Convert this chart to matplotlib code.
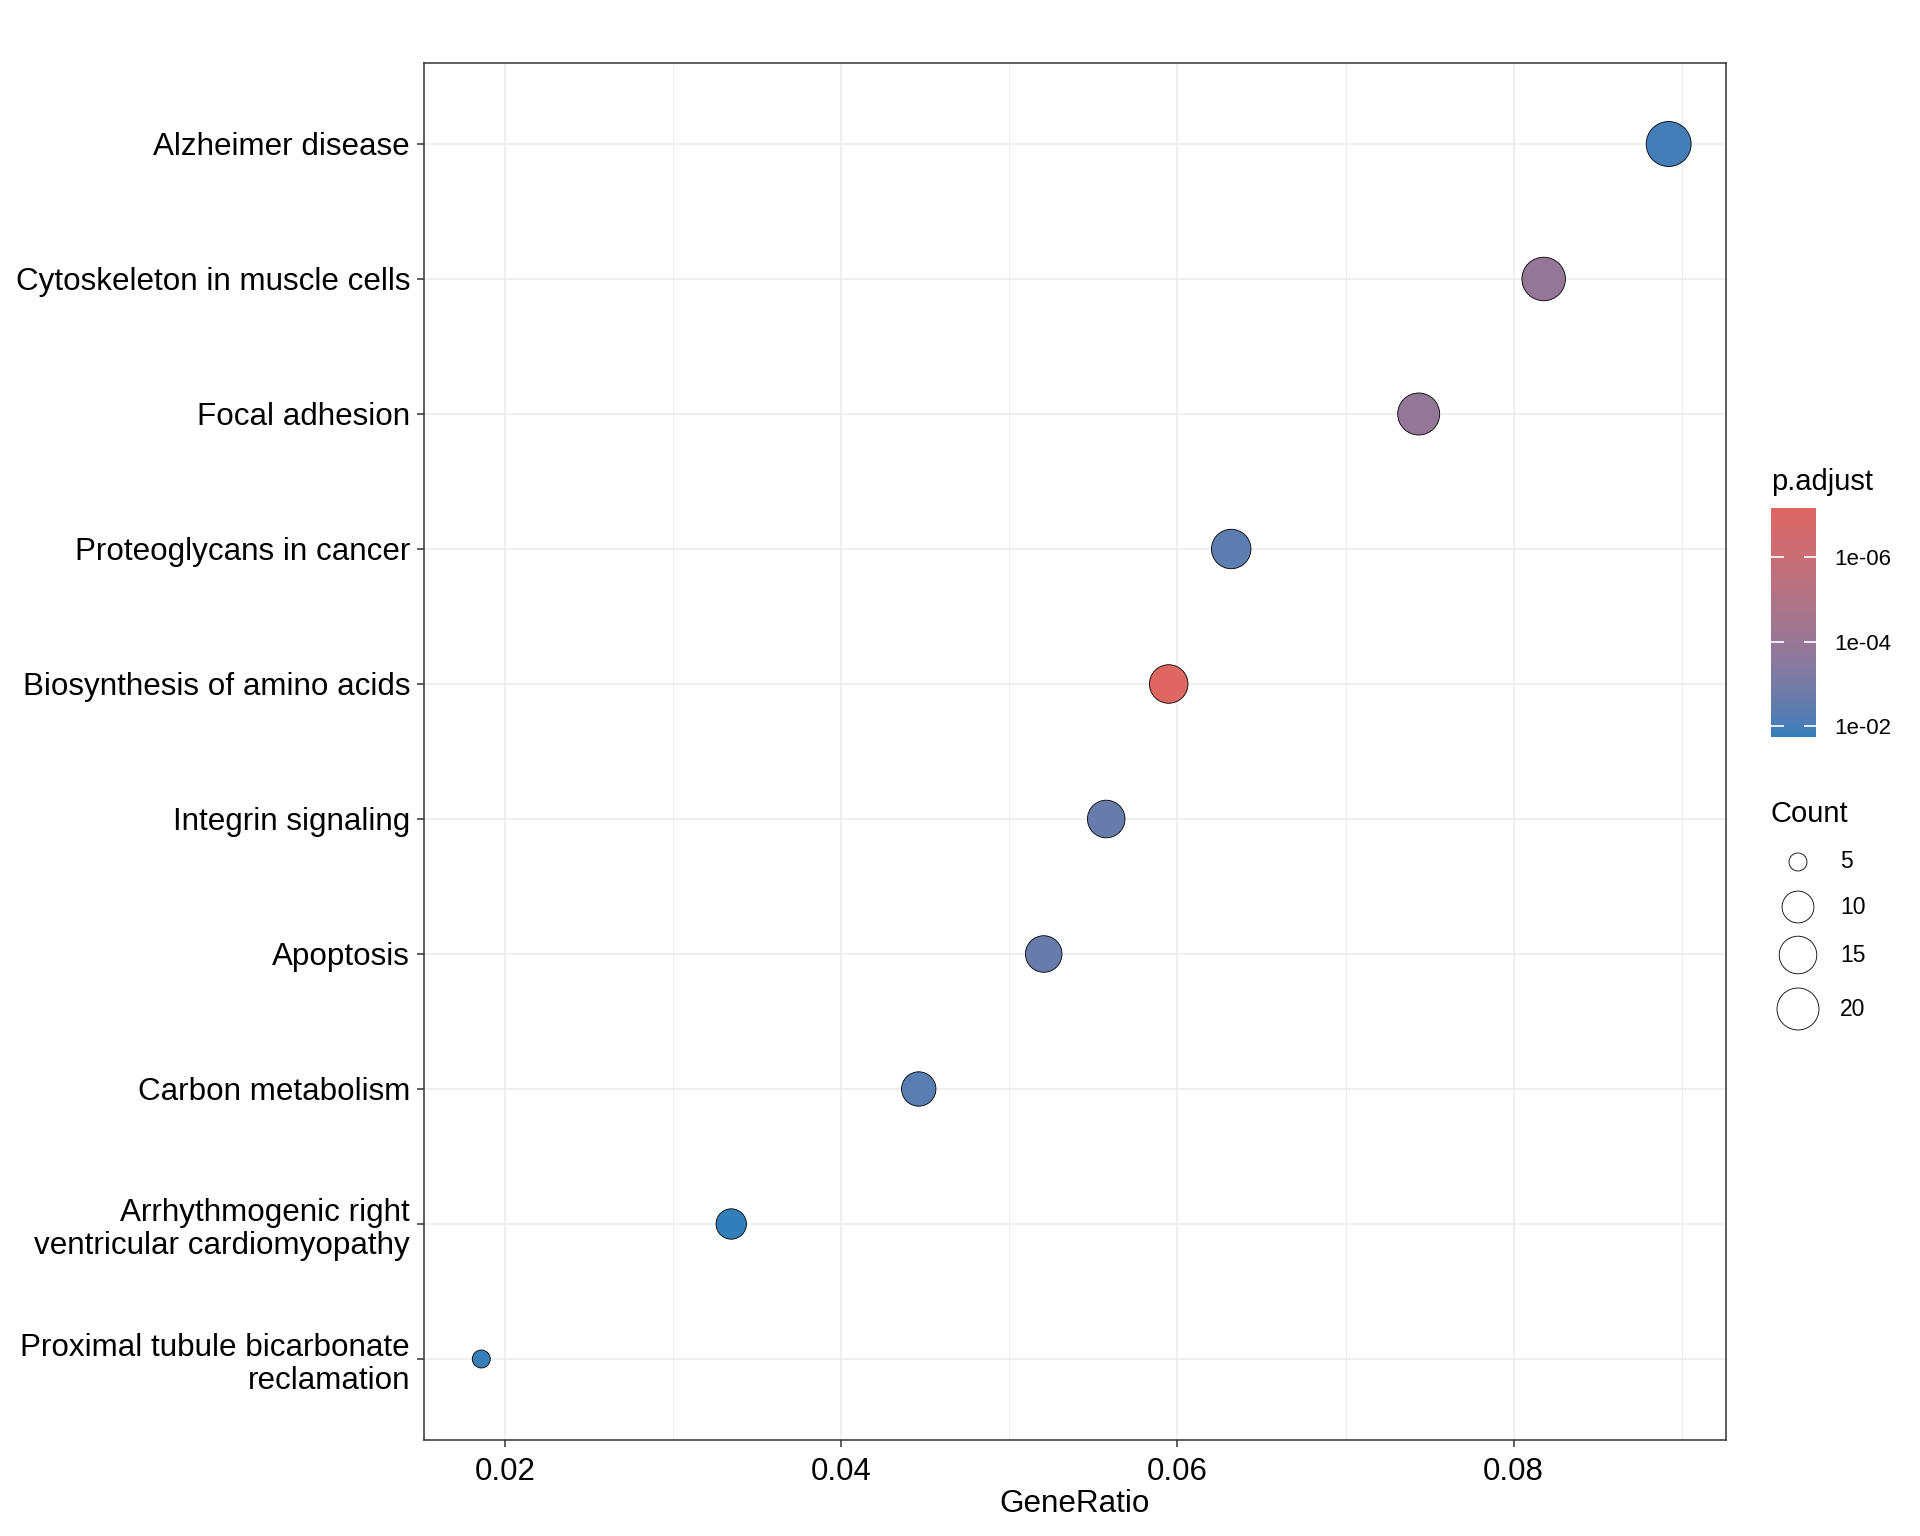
import numpy as np
import matplotlib
matplotlib.use("Agg")
import matplotlib.pyplot as plt
from matplotlib.colors import ListedColormap, LogNorm, to_rgb
from matplotlib.ticker import FixedLocator, NullLocator, FuncFormatter

plt.rcParams['font.family'] = ['Liberation Sans', 'DejaVu Sans']

# data, bottom to top
terms = ['Proximal tubule bicarbonate\nreclamation',
         'Arrhythmogenic right\nventricular cardiomyopathy',
         'Carbon metabolism',
         'Apoptosis',
         'Integrin signaling',
         'Biosynthesis of amino acids',
         'Proteoglycans in cancer',
         'Focal adhesion',
         'Cytoskeleton in muscle cells',
         'Alzheimer disease']
counts = [5, 9, 12, 14, 15, 16, 17, 20, 22, 24]
gene_total = 269
p_adjust = [1.5e-02, 1.8e-02, 5.0e-03, 2.3e-03, 2.3e-03,
            6.9e-08, 3.9e-03, 1.2e-04, 1.2e-04, 1.1e-02]
legend_counts = [5, 10, 15, 20]
x_ticks = [0.02, 0.04, 0.06, 0.08]

gene_ratio = np.array(counts) / gene_total


# colour scale: Lab interpolation like ggplot scale_colour_gradient
def srgb_to_lab(rgb):
    rgb = np.asarray(rgb, float)
    lin = np.where(rgb <= 0.04045, rgb / 12.92, ((rgb + 0.055) / 1.055) ** 2.4)
    m = np.array([[0.4124, 0.3576, 0.1805],
                  [0.2126, 0.7152, 0.0722],
                  [0.0193, 0.1192, 0.9505]])
    xyz = m @ lin / np.array([0.95047, 1.0, 1.08883])
    f = np.where(xyz > 0.008856, np.cbrt(xyz), 7.787 * xyz + 16 / 116)
    return np.array([116 * f[1] - 16, 500 * (f[0] - f[1]), 200 * (f[1] - f[2])])


def lab_to_srgb(lab):
    L, a, b = lab
    fy = (L + 16) / 116
    fx = fy + a / 500
    fz = fy - b / 200
    f = np.array([fx, fy, fz])
    xyz = np.where(f ** 3 > 0.008856, f ** 3, (f - 16 / 116) / 7.787)
    xyz = xyz * np.array([0.95047, 1.0, 1.08883])
    minv = np.array([[3.2406, -1.5372, -0.4986],
                     [-0.9689, 1.8758, 0.0415],
                     [0.0557, -0.2040, 1.0570]])
    lin = minv @ xyz
    rgb = np.where(lin <= 0.0031308, 12.92 * lin, 1.055 * np.abs(lin) ** (1 / 2.4) - 0.055)
    return np.clip(rgb, 0, 1)


lab_lo = srgb_to_lab(to_rgb('#e06663'))
lab_hi = srgb_to_lab(to_rgb('#327eba'))
cols = [lab_to_srgb(lab_lo + t * (lab_hi - lab_lo)) for t in np.linspace(0, 1, 256)]
cmap = ListedColormap(cols)
norm = LogNorm(vmin=min(p_adjust), vmax=max(p_adjust))


# size scale: area scale over the count range
def diam_px(c):
    c = np.asarray(c, float)
    return 18 + 27 * np.sqrt((c - min(counts)) / (max(counts) - min(counts)))


def size_pt2(c):
    return (diam_px(c) * 0.72) ** 2


fig = plt.figure(figsize=(19.2, 15.36), dpi=100)
ax = fig.add_axes([424 / 1920, 1 - 1440 / 1536, 1302 / 1920, 1377 / 1536])

ypos = np.arange(len(terms))
ax.scatter(gene_ratio, ypos, s=size_pt2(counts), c=p_adjust, cmap=cmap, norm=norm,
           edgecolors='black', linewidths=0.6, zorder=3)

ax.set_xlim(0.01518, 0.09263)
ax.set_ylim(-0.6, len(terms) - 0.4)
ax.set_yticks(ypos)
ax.set_yticklabels(terms, fontsize=22.6, linespacing=1.17)
ax.xaxis.set_major_locator(FixedLocator(x_ticks))
ax.xaxis.set_minor_locator(FixedLocator([0.03, 0.05, 0.07, 0.09]))
ax.xaxis.set_major_formatter(FuncFormatter(lambda v, p: f'{v:.2f}'))
ax.tick_params(axis='x', labelsize=22.4, pad=7)
ax.tick_params(which='major', length=5, width=1.1, color='#333333', labelcolor='black')
ax.tick_params(axis='y', pad=5)
ax.tick_params(which='minor', length=0)
ax.grid(which='major', color='#ebebeb', linewidth=1.1, zorder=0)
ax.grid(which='minor', axis='x', color='#ebebeb', linewidth=0.6, zorder=0)
ax.set_axisbelow(True)
for sp in ax.spines.values():
    sp.set_color('#333333')
    sp.set_linewidth(1.1)

fig.text(1075 / 1920, 1 - 1504 / 1536, 'GeneRatio', fontsize=22.6,
         ha='center', va='center')

# colour bar
cax = fig.add_axes([1771 / 1920, 1 - 737 / 1536, 45 / 1920, 229 / 1536])
sm = matplotlib.cm.ScalarMappable(norm=norm, cmap=cmap)
cb = fig.colorbar(sm, cax=cax)
cb.outline.set_visible(False)
cax.invert_yaxis()
cax.yaxis.set_major_locator(FixedLocator([1e-06, 1e-04, 1e-02]))
cax.yaxis.set_minor_locator(NullLocator())
cax.yaxis.set_major_formatter(FuncFormatter(lambda v, p: f'{v:.0e}'))
cax.tick_params(which='major', direction='in', color='white', length=9, width=1.2,
                left=True, right=True, labelleft=False, labelright=True,
                labelsize=16, pad=13)
fig.text(1771 / 1920, 1 - 490 / 1536, 'p.adjust', fontsize=21, va='baseline')

# size legend
fig.text(1771 / 1920, 1 - 822 / 1536, 'Count', fontsize=21, va='baseline')
lax = fig.add_axes([0, 0, 1, 1])
lax.set_xlim(0, 1920)
lax.set_ylim(1536, 0)
lax.axis('off')
leg_y = [862, 907, 955, 1009]
lax.scatter([1798] * len(legend_counts), leg_y, s=size_pt2(legend_counts),
            facecolors='white', edgecolors='black', linewidths=0.6)
for yy, c in zip(leg_y, legend_counts):
    lax.text(1840, yy, str(c), fontsize=16.5, va='center', ha='left')

fig.savefig('out.png', dpi=100, facecolor='white')
